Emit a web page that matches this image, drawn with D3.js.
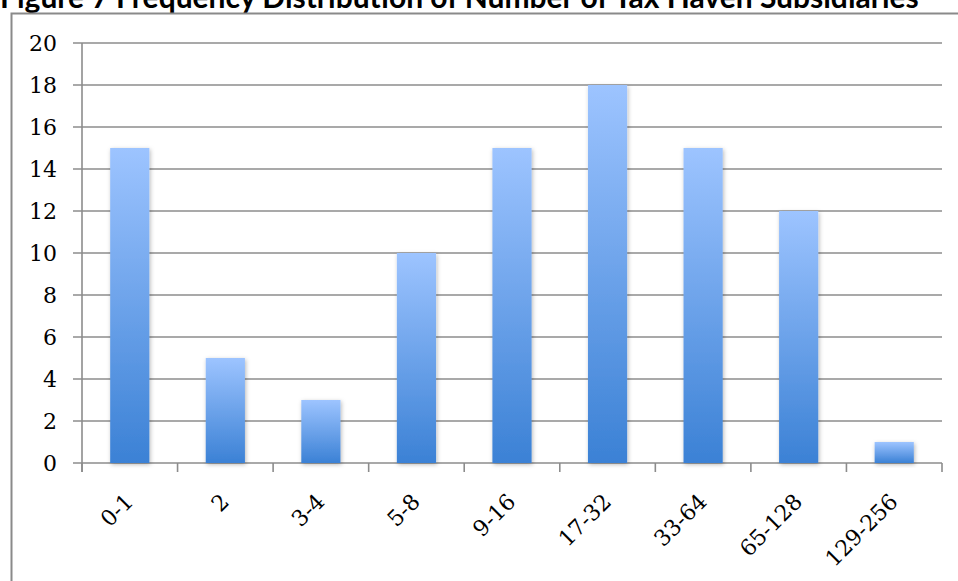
<!DOCTYPE html>
<html>
<head>
<meta charset="utf-8">
<script src="https://cdn.jsdelivr.net/npm/d3@7"></script>
<style>
  html, body { margin: 0; padding: 0; background: #fff; }
  svg { display: block; }
</style>
</head>
<body>
<svg id="chart" width="958" height="581"></svg>
<script>
// Frequency of firms by number of tax haven subsidiaries
const title = "Figure 7 Frequency Distribution of Number of Tax Haven Subsidiaries";
const categories = ["0-1", "2", "3-4", "5-8", "9-16", "17-32", "33-64", "65-128", "129-256"];
const counts = [15, 5, 3, 10, 15, 18, 15, 12, 1];
const yTicks = [0, 2, 4, 6, 8, 10, 12, 14, 16, 18, 20];

const svg = d3.select("#chart");
const W = 958, H = 581;
const plot = { left: 82, right: 942, top: 43, bottom: 463 };
const labelFont = "'DejaVu Serif', 'Liberation Serif', serif";

const defs = svg.append("defs");
const grad = defs.append("linearGradient")
  .attr("id", "barFill").attr("x1", 0).attr("y1", 0).attr("x2", 0).attr("y2", 1);
grad.append("stop").attr("offset", "0%").attr("stop-color", "#9DC4FF");
grad.append("stop").attr("offset", "100%").attr("stop-color", "#3B81D5");

const shadow = defs.append("filter").attr("id", "barShadow")
  .attr("x", "-30%").attr("y", "-10%").attr("width", "160%").attr("height", "130%");
shadow.append("feDropShadow").attr("dx", 1).attr("dy", 1.5).attr("stdDeviation", 2)
  .attr("flood-color", "#000").attr("flood-opacity", 0.28);

// title (sits partly above the page edge)
svg.append("text")
  .attr("x", 0).attr("y", 8)
  .attr("font-family", "Lato, 'Open Sans', sans-serif")
  .attr("font-weight", 700).attr("font-size", 30)
  .attr("fill", "#000")
  .text(title);

// chart frame
svg.append("rect")
  .attr("x", 11.5).attr("y", 13.5).attr("width", W + 20).attr("height", H + 20)
  .attr("fill", "none").attr("stroke", "#8a8a8a").attr("stroke-width", 2);

const x = d3.scaleBand().domain(categories).range([plot.left, plot.right]).paddingInner(0.59).paddingOuter(0.295);
const xBand = d3.scaleBand().domain(categories).range([plot.left, plot.right]);
const y = d3.scaleLinear().domain([0, 20]).range([plot.bottom, plot.top]);

// gridlines
svg.append("g").selectAll("line").data(yTicks).join("line")
  .attr("x1", plot.left - 9).attr("x2", plot.right)
  .attr("y1", d => y(d)).attr("y2", d => y(d))
  .attr("stroke", "#8c8c8c").attr("stroke-width", 1.6);

// y-axis line
svg.append("line")
  .attr("x1", plot.left).attr("x2", plot.left)
  .attr("y1", plot.top).attr("y2", plot.bottom + 9)
  .attr("stroke", "#8c8c8c").attr("stroke-width", 1.6);

// x tick marks at category boundaries
const boundaries = categories.map(c => xBand(c)).concat([plot.right]);
svg.append("g").selectAll("line").data(boundaries).join("line")
  .attr("x1", d => d).attr("x2", d => d)
  .attr("y1", plot.bottom).attr("y2", plot.bottom + 9)
  .attr("stroke", "#8c8c8c").attr("stroke-width", 1.6);

// y labels
svg.append("g").selectAll("text").data(yTicks).join("text")
  .attr("x", 57).attr("y", d => y(d))
  .attr("dy", "0.36em")
  .attr("text-anchor", "end")
  .attr("font-family", labelFont)
  .attr("font-size", 22).attr("fill", "#000")
  .text(d => d);

// bars
svg.append("g").selectAll("rect").data(counts).join("rect")
  .attr("x", (d, i) => x(categories[i]))
  .attr("width", x.bandwidth())
  .attr("y", d => y(d))
  .attr("height", d => y(0) - y(d))
  .attr("fill", "url(#barFill)")
  .attr("filter", "url(#barShadow)");

// x labels, rotated
svg.append("g").selectAll("text").data(categories).join("text")
  .attr("transform", d => `translate(${xBand(d) + xBand.bandwidth() / 2 + 5},${plot.bottom + 40}) rotate(-45)`)
  .attr("text-anchor", "end")
  .attr("font-family", labelFont)
  .attr("font-size", 22).attr("fill", "#000")
  .text(d => d);
</script>
</body>
</html>
